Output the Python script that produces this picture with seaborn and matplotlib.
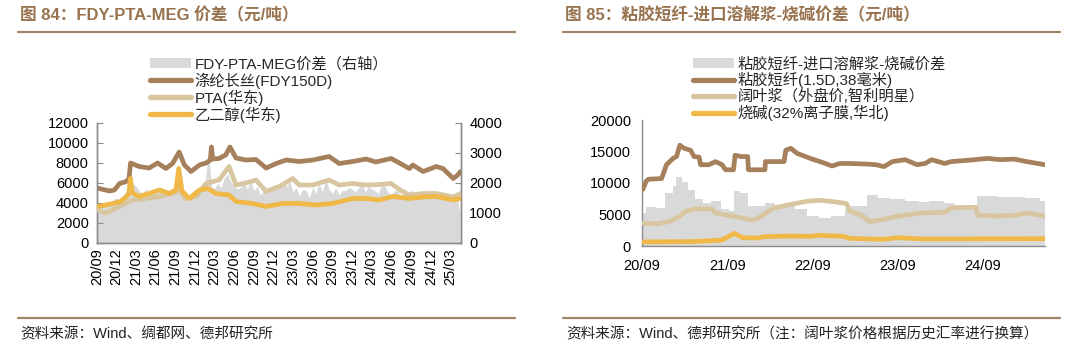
import matplotlib
matplotlib.use('Agg')
import matplotlib.pyplot as plt
import matplotlib.dates as mdates
from matplotlib.lines import Line2D
from matplotlib.patches import Patch
import seaborn as sns
import pandas as pd

# ---------------- data: left chart (FDY-PTA-MEG) ----------------
fdy_dates = ['2020-09-01', '2020-10-29', '2020-11-21', '2020-12-15', '2021-01-15', '2021-01-28',
             '2021-02-04', '2021-03-16', '2021-05-01', '2021-06-10', '2021-07-18', '2021-08-18',
             '2021-09-18', '2021-10-12', '2021-11-12', '2021-12-21', '2022-01-21', '2022-02-10',
             '2022-02-15', '2022-02-21', '2022-03-22', '2022-04-22', '2022-05-12', '2022-06-09',
             '2022-07-25', '2022-09-10', '2022-10-27', '2022-12-13', '2023-01-28', '2023-03-30',
             '2023-06-01', '2023-08-16', '2023-10-02', '2023-12-03', '2024-02-04', '2024-03-20',
             '2024-05-30', '2024-07-08', '2024-08-23', '2024-09-08', '2024-10-26', '2024-12-26',
             '2025-01-26', '2025-03-15', '2025-04-05', '2025-04-18']
fdy_vals = [5500, 5200, 5300, 5950, 6150, 6450,
            8000, 7650, 7500, 8000, 7450, 7950,
            9100, 7800, 7150, 7800, 8000, 8300,
            9600, 8400, 8450, 8800, 9600, 8500,
            8300, 8350, 7500, 7950, 8300, 8150,
            8300, 8650, 7950, 8150, 8400, 8100,
            8450, 8000, 7450, 7800, 7150, 7650,
            7450, 6450, 6800, 7150]

pta_dates = ['2020-09-01', '2020-10-13', '2020-11-29', '2021-01-15', '2021-02-15', '2021-04-15',
             '2021-06-18', '2021-08-18', '2021-09-18', '2021-10-19', '2021-12-06', '2022-01-21',
             '2022-03-22', '2022-05-08', '2022-06-09', '2022-07-25', '2022-09-10', '2022-10-27',
             '2022-12-28', '2023-02-28', '2023-03-30', '2023-06-01', '2023-08-16', '2023-10-02',
             '2023-12-03', '2024-02-04', '2024-04-05', '2024-05-30', '2024-07-22', '2024-08-23',
             '2024-10-26', '2024-12-26', '2025-03-15', '2025-04-18']
pta_vals = [3300, 3000, 3500, 4000, 4300, 4450,
            4650, 4950, 5300, 4450, 4650, 5950,
            6300, 7650, 5800, 6000, 6300, 5150,
            5650, 6450, 5800, 5800, 6300, 5800,
            5950, 5800, 5850, 5950, 5150, 4800,
            4950, 4950, 4600, 4950]

meg_dates = ['2020-09-01', '2020-10-13', '2020-12-15', '2021-01-15', '2021-01-28', '2021-02-03',
             '2021-02-12', '2021-03-16', '2021-05-01', '2021-06-18', '2021-08-03', '2021-09-03',
             '2021-09-16', '2021-10-01', '2021-11-04', '2021-12-21', '2022-01-29', '2022-03-07',
             '2022-05-08', '2022-06-09', '2022-08-25', '2022-10-27', '2023-01-12', '2023-03-30',
             '2023-06-15', '2023-09-01', '2023-12-03', '2024-02-04', '2024-04-05', '2024-06-06',
             '2024-08-23', '2024-10-26', '2024-12-26', '2025-03-15', '2025-04-18']
meg_vals = [3650, 3800, 4100, 4600, 5000, 6450,
            5000, 4650, 4950, 5300, 4950, 5300,
            7450, 5200, 4450, 5300, 5450, 4950,
            4800, 4150, 3950, 3650, 3950, 3950,
            3800, 3950, 4450, 4450, 4300, 4650,
            4450, 4600, 4650, 4300, 4450]

# FDY-PTA-MEG spread (right axis), semi-monthly from 2020-09-01
spread_left_start = '2020-09-01'
spread_left_vals = [1250, 1350, 1300, 1400, 1350, 1450, 1500, 1450,
                    1600, 1750, 2550, 1950, 1900, 1750, 1650, 1800,
                    1700, 1650, 1750, 1700, 1650, 1800, 1700, 1750,
                    1850, 2300, 1750, 1650, 1600, 1550, 1650, 1800,
                    1750, 1850, 3100, 1900, 1800, 2000, 1850, 2150,
                    2300, 2050, 1900, 1800, 1850, 2050, 1800, 2100,
                    1750, 1900, 1600, 1750, 1850, 1750, 1950, 1800,
                    1850, 2000, 1900, 2050, 1700, 1850, 1550, 1800,
                    1750, 1500, 1850, 1650, 2000, 1700, 2150, 1800,
                    1650, 1850, 1600, 1750, 1750, 1850, 1800, 1700,
                    1850, 1950, 1700, 1900, 1800, 1750, 1650, 1950,
                    1900, 1700, 1600, 1750, 1750, 1550, 1800, 1650,
                    1750, 1700, 1650, 1600, 1700, 1650, 1600, 1700,
                    1650, 1600, 1550, 1650, 1500, 1600, 1600, 1000]

# ---------------- data: right chart (viscose) ----------------
viscose_dates = ['2020-09-05', '2020-09-19', '2020-09-29', '2020-11-24', '2020-12-15', '2021-01-12',
                 '2021-01-27', '2021-02-10', '2021-03-01', '2021-03-28', '2021-04-12', '2021-05-04',
                 '2021-05-10', '2021-06-15', '2021-07-13', '2021-08-10', '2021-08-25', '2021-09-28',
                 '2021-10-05', '2021-10-31', '2021-11-28', '2021-12-01', '2022-02-10', '2022-02-12',
                 '2022-05-03', '2022-05-10', '2022-06-01', '2022-06-28', '2022-08-24', '2022-10-19',
                 '2022-11-24', '2022-12-28', '2023-02-09', '2023-04-25', '2023-06-01', '2023-07-05',
                 '2023-08-10', '2023-10-04', '2023-11-24', '2023-12-28', '2024-01-25', '2024-03-21',
                 '2024-04-18', '2024-06-28', '2024-09-21', '2024-11-16', '2025-01-13', '2025-03-07',
                 '2025-05-25']
viscose_vals = [9000, 10300, 10600, 10700, 12900, 13900,
                14200, 16000, 15500, 15200, 14200, 14100,
                12900, 12900, 13400, 12900, 12100, 12100,
                14400, 14200, 14200, 12100, 12100, 13400,
                13400, 15200, 15500, 14700, 13900, 13200,
                12700, 13100, 13100, 13000, 12900, 12600,
                13400, 13700, 12900, 13100, 13700, 13100,
                13400, 13600, 13900, 13700, 13800, 13400,
                12900]

pulp_dates = ['2020-09-05', '2020-11-03', '2020-12-29', '2021-02-10', '2021-03-07', '2021-04-19',
              '2021-06-28', '2021-07-13', '2021-09-21', '2021-11-04', '2021-12-16', '2022-01-12',
              '2022-03-22', '2022-06-01', '2022-08-10', '2022-10-05', '2022-11-16', '2023-01-25',
              '2023-02-09', '2023-04-05', '2023-05-04', '2023-06-28', '2023-09-07', '2023-12-15',
              '2024-03-21', '2024-04-18', '2024-08-03', '2024-08-09', '2024-10-19', '2025-01-13',
              '2025-03-07', '2025-05-25']
pulp_vals = [3600, 3500, 3900, 4700, 5500, 5900,
             5900, 5250, 4750, 4450, 4100, 4450,
             6050, 6600, 7100, 7250, 7100, 6750,
             5550, 4750, 3850, 4200, 4750, 5250,
             5350, 6050, 6150, 4900, 4750, 4850,
             5250, 4750]

caustic_dates = ['2020-09-05', '2021-04-05', '2021-06-01', '2021-08-10', '2021-10-02', '2021-11-06',
                 '2022-01-12', '2022-02-03', '2022-06-01', '2022-08-24', '2022-09-28', '2023-01-12',
                 '2023-02-09', '2023-06-28', '2023-09-07', '2023-12-15', '2025-05-25']
caustic_vals = [650, 700, 800, 950, 2000, 1320,
                1270, 1480, 1580, 1530, 1690, 1530,
                1210, 1060, 1320, 1110, 1160]

spread_right_dates = ['2020-09-01', '2020-09-20', '2020-11-01', '2020-12-10', '2021-01-10', '2021-01-25',
                      '2021-02-20', '2021-03-15', '2021-04-15', '2021-05-20', '2021-06-25', '2021-08-05',
                      '2021-09-10', '2021-10-01', '2021-10-25', '2021-12-01', '2022-02-10', '2022-03-25',
                      '2022-05-10', '2022-06-20', '2022-08-10', '2022-10-01', '2022-11-20', '2023-01-20',
                      '2023-02-15', '2023-04-25', '2023-06-10', '2023-08-01', '2023-10-01', '2023-12-01',
                      '2024-01-15', '2024-03-20', '2024-05-01', '2024-08-05', '2024-11-01', '2025-01-15',
                      '2025-03-01', '2025-05-05', '2025-05-25']
spread_right_vals = [5300, 6200, 6000, 8400, 9600, 11000,
                     10200, 8900, 7400, 6800, 7100, 5800,
                     5500, 8700, 8400, 6300, 6900, 6200,
                     6300, 5900, 4800, 4400, 4700, 5800,
                     6400, 8100, 7600, 7500, 7200, 7000,
                     7100, 6800, 6500, 7900, 7800, 7800,
                     7600, 7100, 7100]

left_labels = ['FDY-PTA-MEG价差（右轴）', '涤纶长丝(FDY150D)', 'PTA(华东)', '乙二醇(华东)']
right_labels = ['粘胶短纤-进口溶解浆-烧碱价差', '粘胶短纤(1.5D,38毫米)', '阔叶浆（外盘价,智利明星）', '烧碱(32%离子膜,华北)']

# ---------------- style ----------------
sns.set_theme(style='white')
plt.rcParams['font.family'] = ['Liberation Sans', 'Noto Sans CJK SC']
plt.rcParams['axes.unicode_minus'] = False

BROWN = '#a5805a'
TAN = '#d8c6a0'
YELLOW = '#f0b947'
GREY = '#d9d9d9'
SPINE = '#8c8c8c'
TITLE = '#98734f'
LW = 3.4

fig = plt.figure(figsize=(10.8, 3.5), dpi=100)

# ---------------- left chart ----------------
ax1 = fig.add_axes([97 / 1080, 1 - 243 / 350, (461 - 97) / 1080, 120 / 350])
ax2 = ax1.twinx()
sp_dates = pd.date_range(spread_left_start, periods=len(spread_left_vals), freq='SMS')
ax2.fill_between(sp_dates, spread_left_vals, 0, color=GREY, lw=0)
ax2.set_ylim(0, 4000)
ax2.set_yticks([0, 1000, 2000, 3000, 4000])

for d, v, c in [(fdy_dates, fdy_vals, BROWN), (pta_dates, pta_vals, TAN), (meg_dates, meg_vals, YELLOW)]:
    df = pd.DataFrame({'date': pd.to_datetime(d), 'val': v})
    sns.lineplot(data=df, x='date', y='val', ax=ax1, color=c, lw=LW, estimator=None,
                 legend=False, solid_capstyle='round')
ax1.lines[1].set_zorder(3)
ax1.lines[2].set_zorder(4)

ax1.set_zorder(ax2.get_zorder() + 1)
ax1.patch.set_visible(False)
ax1.set_ylim(0, 12000)
ax1.set_yticks(range(0, 12001, 2000))
ax1.set_xlim(pd.Timestamp('2020-09-01'), pd.Timestamp('2025-04-20'))
ax1.xaxis.set_major_locator(mdates.MonthLocator(bymonth=[3, 6, 9, 12]))
ax1.xaxis.set_major_formatter(mdates.DateFormatter('%y/%m'))
ax1.set_xlabel('')
ax1.set_ylabel('')
for lab in ax1.get_xticklabels():
    lab.set_rotation(90)

for a in (ax1, ax2):
    for s in a.spines.values():
        s.set_color(SPINE)
        s.set_linewidth(1.0)
    a.spines['top'].set_visible(False)
    a.tick_params(axis='both', direction='in', length=4, width=0.8, color=SPINE,
                  labelsize=10.5, labelcolor='black', pad=4)
ax1.tick_params(axis='y', pad=6)
ax2.tick_params(axis='y', pad=6)

h_left = [Patch(facecolor=GREY, edgecolor='none'),
          Line2D([], [], color=BROWN, lw=3.8, solid_capstyle='round'),
          Line2D([], [], color=TAN, lw=3.8, solid_capstyle='round'),
          Line2D([], [], color=YELLOW, lw=3.8, solid_capstyle='round')]
fig.legend(h_left, left_labels, loc='upper left', bbox_to_anchor=(150 / 1080, 1 - 57 / 350),
           frameon=False, fontsize=11, handlelength=2.7, handletextpad=0.2, labelspacing=0.05,
           borderpad=0, borderaxespad=0, handleheight=0.6)

# ---------------- right chart ----------------
ax3 = fig.add_axes([642 / 1080, 1 - 246 / 350, (1045 - 642) / 1080, 126 / 350])
ax3.fill_between(pd.to_datetime(spread_right_dates), spread_right_vals, 0, step='post',
                 color=GREY, lw=0, zorder=1)
for d, v, c, z in [(viscose_dates, viscose_vals, BROWN, 3), (pulp_dates, pulp_vals, TAN, 4),
                   (caustic_dates, caustic_vals, YELLOW, 5)]:
    df = pd.DataFrame({'date': pd.to_datetime(d), 'val': v})
    sns.lineplot(data=df, x='date', y='val', ax=ax3, color=c, lw=LW, estimator=None,
                 legend=False, solid_capstyle='round', zorder=z)
ax3.set_ylim(0, 20000)
ax3.set_yticks(range(0, 20001, 5000))
ax3.set_xlim(pd.Timestamp('2020-09-01'), pd.Timestamp('2025-05-25'))
ax3.xaxis.set_major_locator(mdates.MonthLocator(bymonth=[9]))
ax3.xaxis.set_major_formatter(mdates.DateFormatter('%y/%m'))
ax3.set_xlabel('')
ax3.set_ylabel('')
for side in ('top', 'right'):
    ax3.spines[side].set_visible(False)
for side in ('left', 'bottom'):
    ax3.spines[side].set_color(SPINE)
    ax3.spines[side].set_linewidth(1.0)
ax3.tick_params(axis='both', direction='in', length=4, width=0.8, color=SPINE,
                labelsize=10.5, labelcolor='black')
ax3.tick_params(axis='x', pad=9)
ax3.tick_params(axis='y', pad=8)

h_right = [Patch(facecolor=GREY, edgecolor='none'),
           Line2D([], [], color=BROWN, lw=3.8, solid_capstyle='round'),
           Line2D([], [], color=TAN, lw=3.8, solid_capstyle='round'),
           Line2D([], [], color=YELLOW, lw=3.8, solid_capstyle='round')]
fig.legend(h_right, right_labels, loc='upper left', bbox_to_anchor=(693 / 1080, 1 - 57 / 350),
           frameon=False, fontsize=11, handlelength=2.7, handletextpad=0.2, labelspacing=0.05,
           borderpad=0, borderaxespad=0, handleheight=0.6)

# ---------------- titles, rules, footers ----------------
fig.text(20 / 1080, 1 - 15 / 350, '图 84：FDY-PTA-MEG 价差（元/吨）', fontsize=12, fontweight='bold',
         color=TITLE, va='center', ha='left')
fig.text(565 / 1080, 1 - 15 / 350, '图 85：粘胶短纤-进口溶解浆-烧碱价差（元/吨）', fontsize=12,
         fontweight='bold', color=TITLE, va='center', ha='left')
for x0, x1 in [(18, 515), (563, 1060)]:
    fig.add_artist(Line2D([x0 / 1080, x1 / 1080], [1 - 32 / 350] * 2, transform=fig.transFigure,
                          color='#a08466', lw=1.6))
    fig.add_artist(Line2D([x0 / 1080, x1 / 1080], [1 - 318 / 350] * 2, transform=fig.transFigure,
                          color='#a08466', lw=1.6))
fig.text(20 / 1080, 1 - 334 / 350, '资料来源：Wind、绸都网、德邦研究所', fontsize=10.5,
         color='#222222', va='center', ha='left')
fig.text(566 / 1080, 1 - 334 / 350, '资料来源：Wind、德邦研究所（注：阔叶浆价格根据历史汇率进行换算）',
         fontsize=10.5, color='#222222', va='center', ha='left')

fig.savefig('out.png', dpi=100)
